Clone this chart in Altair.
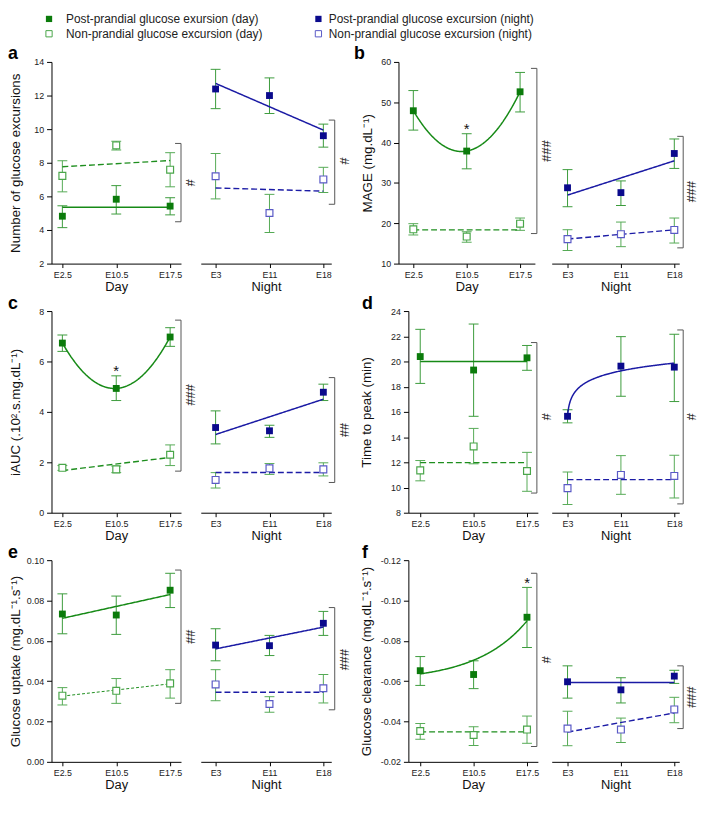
import altair as alt
import pandas as pd

FONT = "Liberation Sans"

day_labels = ["E2.5", "E10.5", "E17.5"]
night_labels = ["E3", "E11", "E18"]

legend_labels = ["Post-prandial glucose exursion (day)", "Non-prandial glucose excursion (day)",
                 "Post-prandial glucose excursion (night)", "Non-prandial glucose excursion (night)"]

# ---- a: Number of glucose excursions ----
a_day_post = [4.82, 5.83, 5.42]
a_day_post_lo = [4.14, 4.95, 4.90]
a_day_post_hi = [5.44, 6.64, 5.92]
a_day_non = [7.22, 9.03, 7.59]
a_day_non_lo = [6.27, 8.76, 6.57]
a_day_non_hi = [8.12, 9.28, 8.60]
a_night_post = [12.39, 12.00, 9.61]
a_night_post_lo = [11.22, 10.93, 8.93]
a_night_post_hi = [13.56, 13.05, 10.30]
a_night_non = [7.20, 5.01, 7.01]
a_night_non_lo = [5.85, 3.85, 6.23]
a_night_non_hi = [8.55, 6.12, 7.73]

# ---- b: MAGE ----
b_day_post = [47.9, 37.9, 52.6]
b_day_post_lo = [43.1, 33.5, 47.6]
b_day_post_hi = [52.9, 42.2, 57.4]
b_day_non = [18.5, 16.7, 19.9]
b_day_non_lo = [17.1, 15.3, 18.25]
b_day_non_hi = [19.9, 17.9, 21.3]
b_night_post = [28.8, 27.6, 37.3]
b_night_post_lo = [24.1, 24.4, 33.6]
b_night_post_hi = [33.3, 30.5, 40.9]
b_night_non = [16.07, 17.3, 18.35]
b_night_non_lo = [13.25, 14.2, 15.1]
b_night_non_hi = [18.4, 20.3, 21.3]

# ---- c: iAUC ----
c_day_post = [6.73, 4.93, 6.97]
c_day_post_lo = [6.40, 4.45, 6.60]
c_day_post_hi = [7.05, 5.43, 7.34]
c_day_non = [1.78, 1.72, 2.30]
c_day_non_lo = [1.68, 1.59, 1.87]
c_day_non_hi = [1.87, 1.85, 2.69]
c_night_post = [3.38, 3.25, 4.78]
c_night_post_lo = [2.73, 2.99, 4.45]
c_night_post_hi = [4.04, 3.47, 5.10]
c_night_non = [1.30, 1.76, 1.72]
c_night_non_lo = [0.98, 1.52, 1.46]
c_night_non_hi = [1.59, 1.95, 1.98]

# ---- d: Time to peak ----
d_day_post = [20.39, 19.32, 20.29]
d_day_post_lo = [18.26, 15.65, 19.30]
d_day_post_hi = [22.55, 22.97, 21.27]
d_day_non = [11.36, 13.26, 11.31]
d_day_non_lo = [10.53, 11.88, 9.70]
d_day_non_hi = [12.14, 14.69, 12.79]
d_night_post = [15.65, 19.63, 19.55]
d_night_post_lo = [15.13, 17.24, 16.82]
d_night_post_hi = [16.17, 21.97, 22.16]
d_night_non = [9.95, 11.00, 10.92]
d_night_non_lo = [8.65, 9.46, 9.17]
d_night_non_hi = [11.23, 12.53, 12.56]

# ---- e: Glucose uptake ----
e_day_post = [0.0733, 0.0728, 0.0851]
e_day_post_lo = [0.0635, 0.0632, 0.0765]
e_day_post_hi = [0.0833, 0.0822, 0.0935]
e_day_non = [0.0328, 0.0352, 0.0389]
e_day_non_lo = [0.0282, 0.0290, 0.0316]
e_day_non_hi = [0.0368, 0.0413, 0.0457]
e_night_post = [0.0579, 0.0576, 0.0687]
e_night_post_lo = [0.0501, 0.0527, 0.0627]
e_night_post_hi = [0.0660, 0.0627, 0.0746]
e_night_non = [0.0384, 0.0287, 0.0365]
e_night_non_lo = [0.0303, 0.0246, 0.0292]
e_night_non_hi = [0.0457, 0.0323, 0.0433]

# ---- f: Glucose clearance ----
f_day_post = [-0.0652, -0.0633, -0.0917]
f_day_post_lo = [-0.0579, -0.0563, -0.0767]
f_day_post_hi = [-0.0722, -0.0701, -0.1065]
f_day_non = [-0.0353, -0.0333, -0.0360]
f_day_non_lo = [-0.0312, -0.0281, -0.0292]
f_day_non_hi = [-0.0390, -0.0374, -0.0427]
f_night_post = [-0.0597, -0.0557, -0.0625]
f_night_post_lo = [-0.0516, -0.0492, -0.0589]
f_night_post_hi = [-0.0676, -0.0617, -0.0654]
f_night_non = [-0.0365, -0.0360, -0.0460]
f_night_non_lo = [-0.0280, -0.0296, -0.0394]
f_night_non_hi = [-0.0451, -0.0417, -0.0520]

# significance brackets [low, high]
a_day_bracket = [4.49, 9.15]
a_night_bracket = [5.53, 10.54]
b_day_bracket = [17.45, 58.4]
b_night_bracket = [13.9, 41.55]
c_day_bracket = [1.65, 7.64]
c_night_bracket = [1.2, 5.36]
d_day_bracket = [9.56, 21.5]
d_night_bracket = [8.7, 22.5]
e_day_bracket = [0.029, 0.0951]
e_night_bracket = [0.0258, 0.0765]
f_day_bracket = [-0.0276, -0.1135]
f_night_bracket = [-0.0365, -0.0676]

sig_centres = {"a": [6.8, 8.1], "b": [37.9, 27.8], "c": [4.67, 3.28],
               "d": [15.6, 15.6], "e": [0.062, 0.0506], "f": [-0.0706, -0.052]}
sig_labels = {"a": ["#", "#"], "b": ["###", "###"], "c": ["###", "##"],
              "d": ["#", "#"], "e": ["##", "###"], "f": ["#", "###"]}

# asterisks (x index, y)
b_star = [1, 44.1]
c_star = [1, 5.72]
f_star = [2, -0.110]

COL = {
    "day": {"post": "#0b7b0b", "post_err": "#3b9b3b", "post_line": "#168a16",
            "non": "#4aa64a", "non_err": "#55aa55", "non_line": "#1e8e1e"},
    "night": {"post": "#0a0a8c", "post_err": "#3636ad", "post_line": "#1a1aa4",
              "non": "#5a5ac6", "non_err": "#5a5ac2", "non_line": "#1c1ca6"},
}
BR = "#555555"
H = 204
ROW_GAP = 48
COL_GAP = 14

# model settings for the two non-polynomial fits
LOG_SHIFT = 0.02      # saturating (log) fit, panel d night
EXP_OFFSET = 0.06     # offset exponential fit, panel f day


def fit_layer(base, series, fit, X, Y, color, dash, width):
    src = base.transform_filter(alt.datum.series == series)
    mk = dict(color=color, strokeWidth=width, strokeDash=dash)
    if fit == "mean":
        return src.mark_rule(**mk).encode(x=X("min(x):Q"), x2="max(x):Q", y=Y("mean(v):Q"))
    if fit == "linear":
        return src.transform_regression("x", "v", method="linear").mark_line(**mk).encode(
            x=X("x:Q"), y=Y("v:Q"))
    if fit == "log":
        return (src.transform_calculate(xs=f"datum.x + {LOG_SHIFT}")
                .transform_regression("xs", "v", method="log")
                .transform_calculate(x=f"datum.xs - {LOG_SHIFT}")
                .mark_line(**mk).encode(x=X("x:Q"), y=Y("v:Q")))
    if fit == "exp":
        return (src.transform_calculate(m=f"-datum.v - {EXP_OFFSET}")
                .transform_regression("x", "m", method="exp")
                .transform_calculate(v=f"-(datum.m + {EXP_OFFSET})")
                .mark_line(**mk).encode(x=X("x:Q"), y=Y("v:Q")))
    return src.transform_regression("x", "v", method="poly", order=2).mark_line(**mk).encode(
        x=X("x:Q"), y=Y("v:Q"))


def panel(period, post, post_lo, post_hi, non, non_lo, non_hi, post_fit, non_fit,
          ydom, yvals, yexpr, yrev, ytitle, ytitle_x, view_w, axis_len, tick_off, unit,
          bracket, br_dx, sig_dx, sig_y, sig_txt, star=None, non_dash=(6, 3), non_w=1.4,
          x_r0=0, extra=()):
    labels = day_labels if period == "day" else night_labels
    col = COL[period]
    d0 = -tick_off / unit
    d1 = (axis_len - tick_off) / unit
    xs = alt.Scale(domain=[d0, d1], range=[x_r0, x_r0 + axis_len], nice=False, zero=False)
    xax = alt.Axis(values=[0, 1, 2], labelExpr=str(labels) + "[datum.value]",
                   title="Day" if period == "day" else "Night",
                   tickSize=4, labelFontSize=9, titleFontSize=13, labelPadding=3,
                   titlePadding=1, grid=False, labelFlush=False, labelOverlap=False)
    ys = alt.Scale(domain=ydom, nice=False, zero=False, reverse=yrev)
    if period == "day":
        yax = alt.Axis(values=yvals, labelExpr=yexpr, title=ytitle, titleX=ytitle_x,
                       titleY=H / 2, titleAngle=270, titleAlign="center", titleBaseline="middle",
                       tickSize=5, labelPadding=3, labelFontSize=9, titleFontSize=13.5,
                       grid=False, labelFlush=False, labelOverlap=False, offset=-x_r0)
    else:
        yax = None

    def X(f):
        return alt.X(f, scale=xs, axis=xax)

    def Y(f):
        return alt.Y(f, scale=ys, axis=yax)

    df = pd.DataFrame({"x": [0, 1, 2] * 2, "series": ["post"] * 3 + ["non"] * 3,
                       "v": post + non, "lo": post_lo + non_lo, "hi": post_hi + non_hi})
    base = alt.Chart(df)
    ecol = alt.Color("series:N", scale=alt.Scale(domain=["post", "non"],
                                                 range=[col["post_err"], col["non_err"]]),
                     legend=None)
    layers = [
        base.mark_rule(strokeWidth=1).encode(x=X("x:Q"), y=Y("lo:Q"), y2="hi:Q", color=ecol),
        base.mark_tick(orient="horizontal", size=10, thickness=1, opacity=1).encode(
            x=X("x:Q"), y=Y("lo:Q"), color=ecol),
        base.mark_tick(orient="horizontal", size=10, thickness=1, opacity=1).encode(
            x=X("x:Q"), y=Y("hi:Q"), color=ecol),
        fit_layer(base, "post", post_fit, X, Y, col["post_line"], [1, 0], 1.5),
        fit_layer(base, "non", non_fit, X, Y, col["non_line"], list(non_dash), non_w),
        base.transform_filter(alt.datum.series == "post").mark_point(
            shape="square", filled=True, size=48, opacity=1, color=col["post"]).encode(
            x=X("x:Q"), y=Y("v:Q")),
        base.transform_filter(alt.datum.series == "non").mark_point(
            shape="square", filled=False, fill="white", fillOpacity=1, size=48,
            strokeWidth=1.2, opacity=1, color=col["non"]).encode(x=X("x:Q"), y=Y("v:Q")),
    ]
    bx = x_r0 + axis_len + br_dx
    layers.append(alt.Chart(pd.DataFrame({"blo": [bracket[0]], "bhi": [bracket[1]]})).mark_rule(
        color=BR, strokeWidth=1).encode(x=alt.value(bx), y=Y("blo:Q"), y2="bhi:Q"))
    layers.append(alt.Chart(pd.DataFrame({"b": bracket})).mark_rule(
        color=BR, strokeWidth=1).encode(x=alt.value(bx - 6), x2=alt.value(bx), y=Y("b:Q")))
    layers.append(alt.Chart(pd.DataFrame({"sy": [sig_y], "t": [sig_txt]})).mark_text(
        angle=90, fontSize=13, font=FONT, color="#222222", align="center",
        baseline="middle").encode(x=alt.value(bx + sig_dx), y=Y("sy:Q"), text="t:N"))
    if star is not None:
        layers.append(alt.Chart(pd.DataFrame({"sx": [star[0]], "sy": [star[1]]})).mark_text(
            text="*", fontSize=15, font=FONT, color="#111111", align="center",
            baseline="middle", dy=3).encode(x=X("sx:Q"), y=Y("sy:Q")))
    layers.extend(extra)
    return alt.layer(*layers).properties(width=view_w, height=H)


def letter_layer(t, dx):
    return alt.Chart(pd.DataFrame({"t": [t]})).mark_text(
        font=FONT, fontSize=18, fontWeight="bold", align="left", baseline="alphabetic",
        color="#000000").encode(x=alt.value(dx), y=alt.value(-2.5), text="t:N")


def legend_layers():
    out = []
    spots = [(-2.5, -43.5), (-2.5, -28.5), (270, -43.5), (270, -28.5)]
    text_dx = [17.2, 17.2, 10.5, 10.5]
    colors = [COL["day"]["post"], COL["day"]["non"], COL["night"]["post"], COL["night"]["non"]]
    filled = [True, False, True, False]
    for lab, (px, py), tdx, c, f in zip(legend_labels, spots, text_dx, colors, filled):
        src = alt.Chart(pd.DataFrame({"t": [lab]}))
        if f:
            out.append(src.mark_point(shape="square", filled=True, size=40, opacity=1, color=c)
                       .encode(x=alt.value(px), y=alt.value(py)))
        else:
            out.append(src.mark_point(shape="square", filled=False, fill="white", fillOpacity=1,
                                      size=40, strokeWidth=1, opacity=1, color=c)
                       .encode(x=alt.value(px), y=alt.value(py)))
        out.append(src.mark_text(font=FONT, fontSize=12, align="left", baseline="middle",
                                 color="#222222").encode(x=alt.value(px + tdx), y=alt.value(py),
                                                        text="t:N"))
    return out


INT = "format(datum.value, 'd')"
F2 = "format(datum.value, '.2f')"
F2N = "replace(format(datum.value, '.2f'), '\u2212', '-')"

ya = [2, 4, 6, 8, 10, 12, 14]
yb = [10, 20, 30, 40, 50, 60]
yc = [0, 2, 4, 6, 8]
yd = [8, 10, 12, 14, 16, 18, 20, 22, 24]
ye = [0.0, 0.02, 0.04, 0.06, 0.08, 0.10]
yf = [-0.12, -0.10, -0.08, -0.06, -0.04, -0.02]

t_a = "Number of glucose excursions"
t_b = "MAGE (mg.dL\u207b\u00b9)"
t_c = "iAUC (.10\u00b2.s.mg.dL\u207b\u00b9)"
t_d = "Time to peak (min)"
t_e = "Glucose uptake (mg.dL\u207b\u00b9.s\u207b\u00b9)"
t_f = "Glucose clearance (mg.dL\u207b\u00b9.s\u207b\u00b9)"

# layout: (view width, axis length, first tick offset, px per step)
L_DAY = (137, 131, 11, 54.5)
L_NIGHT = (196, 132, 15, 54.5)
B_DAY = (131, 138, 15, 54)
DF_DAY = (131, 131, 12, 54)
R_NIGHT = (129, 129, 16, 54)

a_d = panel("day", a_day_post, a_day_post_lo, a_day_post_hi, a_day_non, a_day_non_lo, a_day_non_hi,
            "mean", "linear", [2, 14], ya, INT, False, t_a, -36, *L_DAY,
            a_day_bracket, 0, 9, sig_centres["a"][0], sig_labels["a"][0],
            extra=[letter_layer("a", -44)] + legend_layers())
a_n = panel("night", a_night_post, a_night_post_lo, a_night_post_hi, a_night_non, a_night_non_lo,
            a_night_non_hi, "linear", "linear", [2, 14], ya, INT, False, t_a, -36, *L_NIGHT,
            a_night_bracket, 3.5, 9, sig_centres["a"][1], sig_labels["a"][1])
b_d = panel("day", b_day_post, b_day_post_lo, b_day_post_hi, b_day_non, b_day_non_lo, b_day_non_hi,
            "quad", "mean", [10, 60], yb, INT, False, t_b, -31, *B_DAY,
            b_day_bracket, 2, 9, sig_centres["b"][0], sig_labels["b"][0], star=b_star,
            x_r0=-10, extra=[letter_layer("b", -55)])
b_n = panel("night", b_night_post, b_night_post_lo, b_night_post_hi, b_night_non, b_night_non_lo,
            b_night_non_hi, "linear", "linear", [10, 60], yb, INT, False, t_b, -31, *R_NIGHT,
            b_night_bracket, 4, 7.5, sig_centres["b"][1], sig_labels["b"][1])
c_d = panel("day", c_day_post, c_day_post_lo, c_day_post_hi, c_day_non, c_day_non_lo, c_day_non_hi,
            "quad", "linear", [0, 8], yc, INT, False, t_c, -36.5, *L_DAY,
            c_day_bracket, 0, 9, sig_centres["c"][0], sig_labels["c"][0], star=c_star,
            extra=[letter_layer("c", -44)])
c_n = panel("night", c_night_post, c_night_post_lo, c_night_post_hi, c_night_non, c_night_non_lo,
            c_night_non_hi, "linear", "mean", [0, 8], yc, INT, False, t_c, -36.5, *L_NIGHT,
            c_night_bracket, 3.5, 9, sig_centres["c"][1], sig_labels["c"][1])
d_d = panel("day", d_day_post, d_day_post_lo, d_day_post_hi, d_day_non, d_day_non_lo, d_day_non_hi,
            "mean", "mean", [8, 24], yd, INT, False, t_d, -42, *DF_DAY,
            d_day_bracket, -1, 9, sig_centres["d"][0], sig_labels["d"][0],
            extra=[letter_layer("d", -47)])
d_n = panel("night", d_night_post, d_night_post_lo, d_night_post_hi, d_night_non, d_night_non_lo,
            d_night_non_hi, "log", "mean", [8, 24], yd, INT, False, t_d, -42, *R_NIGHT,
            d_night_bracket, 4, 7.5, sig_centres["d"][1], sig_labels["d"][1])
e_d = panel("day", e_day_post, e_day_post_lo, e_day_post_hi, e_day_non, e_day_non_lo, e_day_non_hi,
            "linear", "linear", [0, 0.10], ye, F2, False, t_e, -36.5, *L_DAY,
            e_day_bracket, 0, 9, sig_centres["e"][0], sig_labels["e"][0],
            non_dash=(3, 2), non_w=1.0, extra=[letter_layer("e", -44)])
e_n = panel("night", e_night_post, e_night_post_lo, e_night_post_hi, e_night_non, e_night_non_lo,
            e_night_non_hi, "linear", "mean", [0, 0.10], ye, F2, False, t_e, -36.5, *L_NIGHT,
            e_night_bracket, 3.5, 9, sig_centres["e"][1], sig_labels["e"][1])
f_d = panel("day", f_day_post, f_day_post_lo, f_day_post_hi, f_day_non, f_day_non_lo, f_day_non_hi,
            "exp", "mean", [-0.12, -0.02], yf, F2N, True, t_f, -42, *DF_DAY,
            f_day_bracket, -1, 9, sig_centres["f"][0], sig_labels["f"][0], star=f_star,
            extra=[letter_layer("f", -47)])
f_n = panel("night", f_night_post, f_night_post_lo, f_night_post_hi, f_night_non, f_night_non_lo,
            f_night_non_hi, "mean", "linear", [-0.12, -0.02], yf, F2N, True, t_f, -42, *R_NIGHT,
            f_night_bracket, 4, 7.5, sig_centres["f"][1], sig_labels["f"][1])

chart = alt.concat(a_d, a_n, b_d, b_n, c_d, c_n, d_d, d_n, e_d, e_n, f_d, f_n,
                   columns=4, spacing={"row": ROW_GAP, "column": COL_GAP},
                   bounds="flush", align="each").properties(
    autosize=alt.AutoSizeParams(type="none"),
    padding={"left": 44, "top": 50, "right": 656, "bottom": 738}).configure_view(
    stroke=None).configure_axis(
    labelFont=FONT, titleFont=FONT, domainColor="#000000", tickColor="#000000",
    labelColor="#222222", titleColor="#111111", titleFontWeight="normal", domainWidth=1,
    tickWidth=1)

chart.save("out.html", embed_options={"renderer": "svg", "actions": False})
